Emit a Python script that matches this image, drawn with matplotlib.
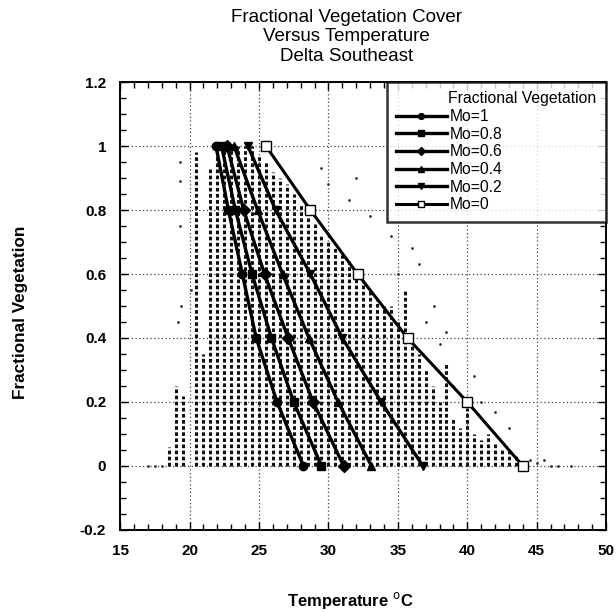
import matplotlib
matplotlib.use("Agg")
import matplotlib.pyplot as plt
from matplotlib.ticker import MultipleLocator

plt.rcParams['font.family'] = ['Liberation Sans', 'DejaVu Sans']

# ---- data ----
fv_levels = [1.0, 0.8, 0.6, 0.4, 0.2, 0.0]
series_labels = ["Mo=1", "Mo=0.8", "Mo=0.6", "Mo=0.4", "Mo=0.2", "Mo=0"]
t_mo1 = [21.9, 22.8, 23.8, 24.8, 26.3, 28.2]
t_mo08 = [22.3, 23.3, 24.5, 25.9, 27.5, 29.5]
t_mo06 = [22.7, 23.9, 25.4, 27.1, 28.9, 31.1]
t_mo04 = [23.2, 24.9, 26.7, 28.6, 30.7, 33.1]
t_mo02 = [24.2, 26.2, 28.7, 31.0, 33.8, 36.8]
t_mo0 = [25.5, 28.7, 32.1, 35.7, 40.0, 44.0]

# observed pixels: vertical columns of points (temperature, top of column)
col_temp = [18.5, 19.0, 19.5, 20.5, 21.0, 21.5, 22.0, 22.5, 23.0, 23.5, 24.0,
            24.5, 25.0, 25.5, 26.0, 26.5, 27.0, 27.5, 28.0, 28.5, 29.0, 29.5,
            30.0, 30.5, 31.0, 31.5, 32.0, 32.5, 33.0, 33.5, 34.0, 34.5, 35.0,
            35.5, 36.0, 36.5, 37.0, 37.5, 38.0, 38.5, 39.0, 39.5, 40.0, 40.5,
            41.0, 41.5, 42.0, 42.5, 43.0, 43.5]
col_top = [0.06, 0.25, 0.22, 0.98, 0.35, 0.93, 1.0, 1.0, 1.0, 1.0, 1.0,
           1.0, 0.97, 0.95, 0.92, 0.9, 0.88, 0.85, 0.82, 0.8, 0.76, 0.72,
           0.7, 0.68, 0.66, 0.64, 0.6, 0.58, 0.55, 0.52, 0.5, 0.5, 0.45,
           0.55, 0.4, 0.35, 0.3, 0.25, 0.2, 0.32, 0.15, 0.12, 0.18, 0.1,
           0.08, 0.1, 0.07, 0.05, 0.05, 0.03]
# scattered individual points
pt_temp = [17.0, 17.5, 18.0, 19.3, 19.3, 19.3, 19.4, 19.2, 20.1, 36.5, 37.0,
           38.0, 37.6, 39.0, 41.0, 42.0, 43.0, 44.5, 45.0, 45.5, 46.0, 46.5,
           47.5, 30.0, 31.5, 33.0, 34.5, 36.0, 32.0, 29.5, 35.0, 40.5, 38.5]
pt_fv = [0.0, 0.0, 0.0, 0.95, 0.89, 0.75, 0.5, 0.45, 0.55, 0.63, 0.45,
         0.38, 0.5, 0.25, 0.2, 0.17, 0.12, 0.02, 0.01, 0.02, 0.0, 0.0,
         0.0, 0.88, 0.83, 0.78, 0.72, 0.68, 0.9, 0.93, 0.6, 0.28, 0.42]

# ---- figure ----
fig = plt.figure(figsize=(6.16, 6.12), dpi=100)
ax = fig.add_axes([0.195, 0.134, 0.789, 0.732])

ax.set_xlim(15, 50)
ax.set_ylim(-0.2, 1.2)
ax.xaxis.set_major_locator(MultipleLocator(5))
ax.xaxis.set_minor_locator(MultipleLocator(1))
ax.yaxis.set_minor_locator(MultipleLocator(0.05))
ax.set_yticks([-0.2, 0, 0.2, 0.4, 0.6, 0.8, 1.0, 1.2])
ax.set_yticklabels(["-0.2", "0", "0.2", "0.4", "0.6", "0.8", "1", "1.2"])
ax.tick_params(which='both', direction='in', top=True, right=True,
               labelsize=11, pad=10)
ax.tick_params(which='major', length=6, width=1)
ax.tick_params(which='minor', length=4, width=1)
for lab in ax.get_xticklabels() + ax.get_yticklabels():
    lab.set_fontweight('bold')
for s in ax.spines.values():
    s.set_linewidth(1.4)

ax.grid(True, which='major', color='#444444', linestyle=(0, (1, 2)),
        linewidth=0.9)
ax.set_axisbelow(True)

# observed data
ax.vlines(col_temp, 0, col_top, colors='#111111', linestyles=(0, (1.2, 0.8)),
          linewidth=2.2, zorder=2)
ax.scatter(pt_temp, pt_fv, s=4, color='#333333', zorder=2, linewidths=0)

# model lines
series = [t_mo1, t_mo08, t_mo06, t_mo04, t_mo02, t_mo0]
markers = ['o', 's', 'D', '^', 'v', 's']
for t, lab, mk in zip(series, series_labels, markers):
    if lab == "Mo=0":
        ax.plot(t, fv_levels, color='black', lw=2.2, marker=mk, ms=7,
                mfc='white', mec='black', mew=1.0, label=lab, zorder=4)
    else:
        ax.plot(t, fv_levels, color='black', lw=2.4, marker=mk, ms=6,
                mfc='black', mec='black', label=lab, zorder=3)

leg = ax.legend(loc='upper right', bbox_to_anchor=(0.549, 0.0, 0.451, 1.0),
                mode='expand', title="Fractional Vegetation",
                fontsize=11.3, title_fontsize=11.3, frameon=True,
                fancybox=False, borderaxespad=0.0, handlelength=3.2,
                markerscale=0.7, labelspacing=0.17, handletextpad=0.2,
                borderpad=0.6, alignment='right')
leg.get_frame().set_edgecolor('black')
leg.get_frame().set_linewidth(1.8)
leg.set_zorder(5)

ax.set_xlabel("Temperature $^\\mathrm{o}$C", fontsize=12, fontweight='bold')
ax.xaxis.set_label_coords(0.473, -0.135)
ax.set_ylabel("Fractional Vegetation", fontsize=12.3, fontweight='bold')
ax.yaxis.set_label_coords(-0.19, 0.485)

fig.text(0.562, 0.986, "Fractional Vegetation Cover\nVersus Temperature\nDelta Southeast",
         ha='center', va='top', fontsize=13.5, linespacing=1.2)

fig.savefig("out.png", dpi=100)
